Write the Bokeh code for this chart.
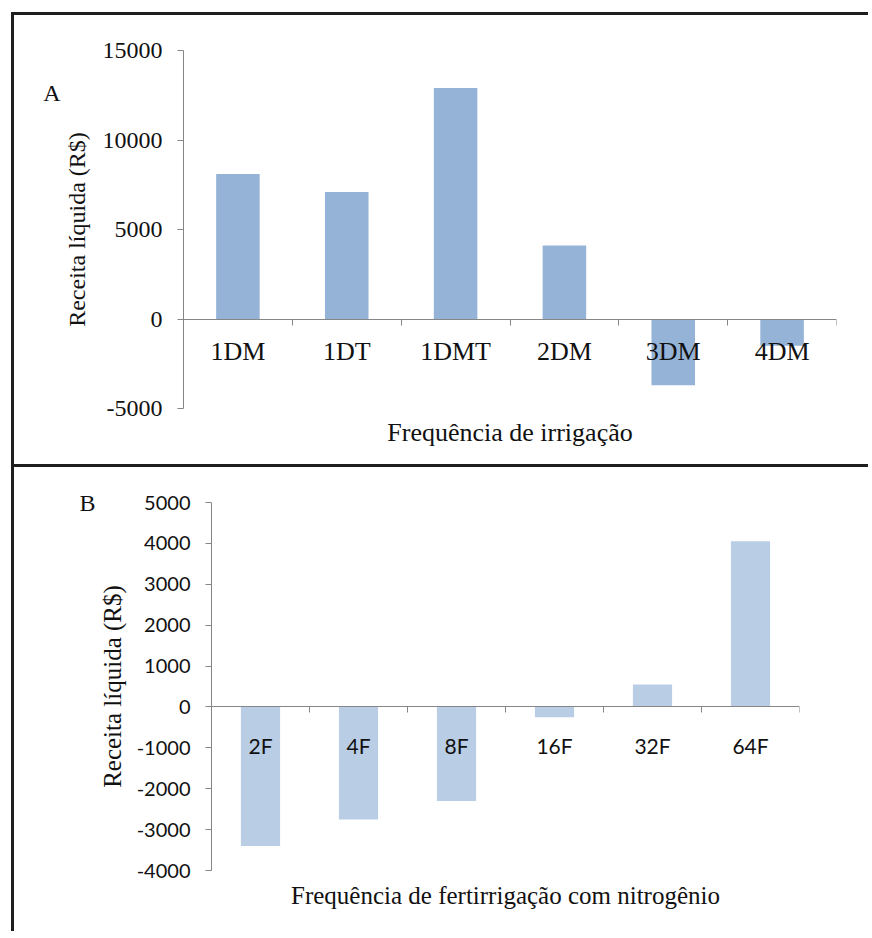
from bokeh.plotting import figure
from bokeh.models import (Range1d, LinearAxis, FixedTicker,
                          NumeralTickFormatter, CustomJSTickFormatter, ColumnDataSource)
from bokeh.embed import file_html
from bokeh.resources import INLINE

# ---- data ----
irrig_categories = ["1DM", "1DT", "1DMT", "2DM", "3DM", "4DM"]
irrig_values = [8100, 7100, 12900, 4100, -3700, -1500]
irrig_ticks = [-5000, 0, 5000, 10000, 15000]

fert_categories = ["2F", "4F", "8F", "16F", "32F", "64F"]
fert_values = [-3400, -2750, -2300, -250, 550, 4050]
fert_ticks = [-4000, -3000, -2000, -1000, 0, 1000, 2000, 3000, 4000, 5000]

AXIS = "#868686"
BORDER = "#1e1e1e"
TEXT = "#111111"
SERIF = "'Liberation Serif', serif"
SANS = "Lato, sans-serif"


def panel(cats, vals, ticks, color, width, height, bl, br, bt, bb,
          tick_font, tick_size, cat_font, cat_size, cat_standoff,
          ytitle, ytitle_size, ytitle_standoff, xtitle, xtitle_size, xtitle_standoff,
          letter, letter_y, letter_standoff):
    n = len(cats)
    centers = [i + 0.5 for i in range(n)]
    p = figure(x_range=Range1d(0, n), y_range=Range1d(ticks[0], ticks[-1]),
               width=width, height=height, output_backend="svg", toolbar_location=None,
               tools="", x_axis_location=None, y_axis_location=None,
               min_border_left=bl, min_border_right=br, min_border_top=bt, min_border_bottom=bb)
    p.outline_line_color = None
    p.grid.visible = False
    p.background_fill_color = "white"
    p.border_fill_color = "white"

    src = ColumnDataSource(dict(x=centers, cat=cats, val=vals))
    p.vbar(x="x", top="val", bottom=0, width=0.4, source=src,
           fill_color=color, line_color=None)

    yax = LinearAxis(ticker=FixedTicker(ticks=ticks), formatter=NumeralTickFormatter(format="0"),
                     axis_label=ytitle, axis_line_color=AXIS, major_tick_line_color=AXIS,
                     major_tick_out=6, major_tick_in=0, minor_tick_line_color=None,
                     major_label_standoff=15, major_label_text_font=tick_font,
                     major_label_text_font_size=tick_size, major_label_text_color=TEXT,
                     axis_label_text_font=SERIF, axis_label_text_font_style="normal",
                     axis_label_text_font_size=ytitle_size, axis_label_text_color=TEXT,
                     axis_label_standoff=ytitle_standoff)
    p.add_layout(yax, "left")

    # panel letter: single tick label of an invisible outer left axis
    lax = LinearAxis(ticker=FixedTicker(ticks=[letter_y]),
                     major_label_overrides={letter_y: letter},
                     axis_line_color=None, major_tick_line_color=None, minor_tick_line_color=None,
                     major_tick_out=0, major_tick_in=0, major_label_standoff=letter_standoff,
                     major_label_text_font=SERIF, major_label_text_font_size="24px",
                     major_label_text_color=TEXT)
    p.add_layout(lax, "left")

    # category boundary ticks along the zero line
    eax = LinearAxis(ticker=FixedTicker(ticks=list(range(n + 1))),
                     formatter=CustomJSTickFormatter(code="return ''"), fixed_location=0,
                     axis_line_color=AXIS, major_tick_line_color=AXIS, major_tick_out=6,
                     major_tick_in=0, minor_tick_line_color=None)
    p.add_layout(eax, "below")

    # category names centred under each bar slot
    cax = LinearAxis(ticker=FixedTicker(ticks=centers),
                     major_label_overrides={c: name for c, name in zip(centers, cats)},
                     fixed_location=0, axis_line_color=None, major_tick_line_color=None,
                     minor_tick_line_color=None,
                     major_tick_out=0, major_tick_in=0, major_label_standoff=cat_standoff,
                     major_label_text_font=cat_font, major_label_text_font_size=cat_size,
                     major_label_text_color=TEXT)
    p.add_layout(cax, "below")

    tax = LinearAxis(ticker=FixedTicker(ticks=[]), axis_label=xtitle,
                     axis_line_color=None, major_tick_line_color=None, minor_tick_line_color=None,
                     major_tick_out=0, major_tick_in=0, major_label_standoff=0,
                     axis_label_text_font=SERIF, axis_label_text_font_style="normal",
                     axis_label_text_font_size=xtitle_size, axis_label_text_color=TEXT,
                     axis_label_standoff=xtitle_standoff)
    p.add_layout(tax, "below")
    return p


pA = panel(irrig_categories, irrig_values, irrig_ticks, "#95B3D7", 857, 455, 169, 35, 35, 62,
           SERIF, "24px", SERIF, "26px", 18,
           "Receita líquida (R$)", "24px", 10, "Frequência de irrigação", "26px", 9,
           "A", 12650, 0)
pB = panel(fert_categories, fert_values, fert_ticks, "#B9CDE5", 857, 464, 197, 72, 35, 61,
           SANS, "20px", SANS, "21px", 26,
           "Receita líquida (R$)", "25px", 8, "Frequência de fertirrigação com nitrogênio", "25px", 11,
           "B", 5000, 0)

pA.styles = {"border-top": f"3px solid {BORDER}", "border-left": f"3px solid {BORDER}",
             "border-bottom": f"3px solid {BORDER}", "margin-top": "12px", "margin-left": "11px"}
pB.styles = {"border-left": f"3px solid {BORDER}", "margin-left": "11px"}

open("out.html", "w").write(file_html([pA, pB], INLINE))
